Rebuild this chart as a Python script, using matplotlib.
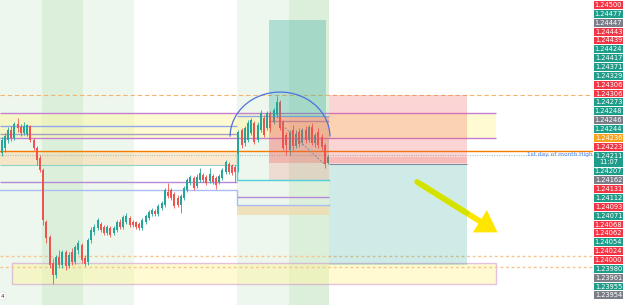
import matplotlib
matplotlib.use("Agg")
import matplotlib.pyplot as plt
from matplotlib.patches import Rectangle, Arc
import numpy as np

BASE = 1.24
# candle data in points (0.00001) above 1.24000
opens = [204, 213, 227, 245, 231, 256, 250, 240, 238, 252, 227, 213, 195, 174, 82, 55, 9, -12, 20, 6,
         29, 4, 29, 11, 32, 41, 18, 11, 50, 64, 71, 79, 73, 63, 71, 63, 68, 82, 73, 82,
         89, 82, 82, 79, 71, 82, 89, 96, 102, 96, 107, 112, 135, 139, 132, 125, 112, 125, 139, 151,
         160, 146, 156, 165, 162, 155, 163, 160, 153, 160, 171, 185, 181, 179, 174, 245, 222, 227, 240, 257,
         227, 245, 266, 248, 275, 259, 271, 294, 259, 236, 210, 245, 217, 241, 224, 245, 227, 250, 222, 241,
         233, 218, 187]
highs = [233, 240, 250, 252, 259, 266, 256, 259, 256, 254, 231, 217, 201, 178, 86, 59, 18, 24, 32, 32,
         32, 29, 36, 41, 50, 45, 24, 54, 73, 79, 89, 82, 77, 77, 75, 75, 86, 87, 94, 98,
         93, 86, 84, 82, 89, 96, 103, 107, 105, 114, 119, 142, 151, 142, 135, 130, 132, 146, 160, 165,
         163, 167, 178, 169, 165, 178, 167, 163, 167, 178, 192, 188, 185, 183, 245, 248, 252, 263, 266, 261,
         259, 280, 271, 279, 279, 284, 305, 298, 263, 241, 245, 254, 245, 248, 248, 252, 254, 257, 240, 248,
         238, 222, 201]
lows = [199, 206, 222, 225, 227, 241, 234, 236, 234, 224, 210, 183, 171, 77, 45, 1, -28, -17, 1, 1,
        -3, 1, 6, 8, 25, 9, 4, 6, 45, 59, 68, 64, 59, 59, 55, 59, 64, 70, 70, 79,
        73, 73, 70, 68, 68, 79, 86, 93, 93, 93, 103, 109, 125, 121, 107, 109, 98, 121, 135, 148,
        139, 142, 153, 153, 148, 151, 149, 140, 149, 156, 167, 167, 165, 153, 171, 213, 217, 224, 236, 220,
        224, 241, 233, 245, 241, 256, 266, 245, 210, 201, 201, 210, 213, 215, 218, 222, 224, 218, 215, 213,
        210, 178, 185]
closes = [227, 234, 245, 231, 256, 248, 240, 252, 254, 227, 213, 192, 174, 86, 54, 6, -12, 20, 6, 29,
          4, 24, 11, 38, 45, 15, 8, 50, 68, 73, 86, 68, 63, 73, 59, 71, 82, 73, 91, 93,
          77, 77, 73, 71, 86, 93, 100, 103, 96, 110, 116, 139, 128, 125, 110, 112, 128, 142, 156, 162,
          142, 162, 169, 156, 151, 167, 153, 148, 163, 174, 188, 171, 169, 171, 241, 218, 248, 257, 263, 224,
          254, 275, 236, 275, 248, 280, 294, 248, 213, 218, 241, 217, 238, 220, 245, 227, 250, 222, 236, 218,
          215, 185, 197]

# drawings (bar index ranges, prices)
session_bands = [(-0.5, 12.6), (12.6, 25.4), (25.4, 41.5), (73.6, 89.8), (89.8, 102.3)]
session_dark = [False, True, False, False, True]
level_prev_high = 1.24306
level_month_high = 1.24207
level_last = 1.24200
level_dotted = [1.24021, 1.24003]
upper_zone = (-0.5, 154.4, 1.24231, 1.24275)
upper_inner = [1.24252, 1.24238]
fvg_zone = (-0.5, 73.6, 1.24182, 1.24206)
lower_zone = (3.2, 154.4, 1.23972, 1.24009)
purple_left = 1.24152
blue_left = 1.24138
purple_right = 1.24126
blue_right = 1.24112
tan_right = (73.6, 102.3, 1.24094, 1.24112)
cyan_box = (73.6, 102.3, 1.24156, 1.24206)
teal_tall = (83.6, 101.4, 1.24268, 1.24440)
red_box = (83.6, 102.3, 1.24187, 1.24268)
red_box_low = (83.6, 102.3, 1.24156, 1.24187)
stop_zone = (102.3, 145.4, 1.24187, 1.24306)
stop_band = (102.3, 145.4, 1.24185, 1.24197)
target_zone = (102.3, 145.4, 1.24006, 1.24185)
arc_center = (87.0, 1.24233)
arc_size = (31.2, 0.00158)
diag = ([87.0, 101.1], [1.24257, 1.24183])
arrow_from = (129.8, 1.24153)
arrow_to = (155.7, 1.24061)

axis_labels = ["1.24500", "1.24477", "1.24447", "1.24443", "1.24439", "1.24424", "1.24417", "1.24371",
               "1.24329", "1.24306", "1.24306", "1.24273", "1.24248", "1.24246", "1.24244", "1.24236",
               "1.24223", "1.24211\n11:07", "1.24207", "1.24162", "1.24131", "1.24112", "1.24093",
               "1.24071", "1.24068", "1.24062", "1.24054", "1.24024", "1.24000", "1.23980", "1.23961",
               "1.23955", "1.23954"]
axis_kinds = ["r", "g", "k", "r", "r", "g", "g", "g", "g", "r", "r", "g", "g", "k", "g", "o",
              "r", "g", "g", "k", "r", "g", "r", "g", "r", "r", "g", "r", "r", "g", "k", "g", "k"]
kind_color = {"r": "#f23645", "g": "#1e9e8a", "k": "#7b7e88", "o": "#f7a21b"}

W, H = 625, 305
fig = plt.figure(figsize=(W / 100, H / 100), dpi=100)
ax = fig.add_axes([0, 0, 593 / W, 1])
ax.set_xlim(-0.5, 184.8)
ax.set_ylim(BASE - 0.00065, BASE + 0.00475)
ax.axis("off")


def box(z, fc, alpha=1.0, zorder=1, ec="none", lw=0):
    x0, x1, p0, p1 = z
    ax.add_patch(Rectangle((x0, p0), x1 - x0, p1 - p0, facecolor=fc, alpha=alpha,
                           edgecolor=ec, lw=lw, zorder=zorder))


for (x0, x1), dark in zip(session_bands, session_dark):
    ax.axvspan(x0, x1, color="#dcefdb" if dark else "#eef7ed", lw=0, zorder=0)

# zones
box(upper_zone, "#fff59d", 0.45, 1)
ax.hlines([upper_zone[3], upper_zone[2]], upper_zone[0], upper_zone[1], color="#c47fd0", lw=1, zorder=2)
ax.hlines(upper_inner[0], -0.5, 73.6, color="#8fa7ee", lw=1, zorder=2)
ax.hlines(upper_inner[1], -0.5, 73.6, color="#a99fc0", lw=1, zorder=2)
ax.hlines(1.24270, 73.6, 102.3, color="#8fa7ee", lw=1, zorder=2)
ax.hlines(1.24260, 83.6, 102.3, color="#a99fc0", lw=1, zorder=2)
box(fvg_zone, "#f9d9a8", 0.55, 1)
ax.hlines(fvg_zone[2], fvg_zone[0], fvg_zone[1], color="#8fd3c8", lw=0.8, zorder=2)
ax.hlines(purple_left, -0.5, 73.6, color="#b48ad8", lw=1, zorder=2)
ax.plot([-0.5, 73.6, 73.6, 102.3], [blue_left, blue_left, blue_right, blue_right],
        color="#a9bdf3", lw=1, zorder=2)
ax.hlines(purple_right, 73.6, 102.3, color="#b48ad8", lw=1, zorder=2)
box(tan_right, "#f0dcae", 0.8, 1)
box(lower_zone, "#fff59d", 0.45, 1, ec="#c77dcc", lw=1)

# levels
ax.axhline(level_prev_high, color="#f5b46a", lw=0.8, ls=(0, (4, 2.5)), zorder=2)
for lv in level_dotted:
    ax.axhline(lv, color="#f7c48a", lw=1.0, ls=(0, (2, 2)), zorder=2)
ax.axhline(level_month_high, color="#f57c00", lw=1.0, zorder=2)
ax.axhline(level_last, color="#a8c5c2", lw=0.8, ls=(0, (1, 1.2)), zorder=2)
ax.text(184.5, level_month_high - 0.00006, "1st day of month High", ha="right", va="center",
        fontsize=4.2, color="#4f86e8", zorder=6)

# candles
o = BASE + np.array(opens) / 1e5
h = BASE + np.array(highs) / 1e5
l = BASE + np.array(lows) / 1e5
c = BASE + np.array(closes) / 1e5
x = np.arange(len(o))
col = np.where(c >= o, "#26a69a", "#ef5350")
ax.vlines(x, l, h, colors=col, lw=0.6, zorder=3)
ax.bar(x, np.maximum(np.abs(c - o), 0.000012), bottom=np.minimum(o, c), width=0.62,
       color=col, lw=0, zorder=3)

# drawings on top
box(teal_tall, "#26a69a", 0.3, 4)
box(red_box, "#ef5350", 0.38, 4)
box(red_box_low, "#ef5350", 0.16, 4)
ax.plot([73.6, 73.6, 102.3], [cyan_box[3] - 0.00004, cyan_box[2], cyan_box[2]],
        color="#4fd0dd", lw=1, zorder=4)
box(stop_zone, "#ef5350", 0.24, 4)
box(stop_band, "#ef5350", 0.2, 4)
box(target_zone, "#26a69a", 0.22, 4)
ax.hlines(stop_band[2], stop_zone[0], stop_zone[1], color="#7d8c9a", lw=0.8, zorder=5)
ax.add_patch(Arc(arc_center, arc_size[0], arc_size[1], theta1=0, theta2=180,
                 color="#4d72dd", lw=0.9, zorder=5))
ax.plot(diag[0], diag[1], color="#8a8f9c", lw=0.7, ls=(0, (2, 1.5)), zorder=5)

mid = (arrow_from[0] + 0.6 * (arrow_to[0] - arrow_from[0]),
       arrow_from[1] + 0.6 * (arrow_to[1] - arrow_from[1]))
ax.annotate("", xy=arrow_to, xytext=arrow_from, zorder=6,
            arrowprops=dict(arrowstyle="simple,head_width=1.9,head_length=1.5,tail_width=0.42",
                            mutation_scale=10, color="#ffe600", lw=0))
ax.plot([arrow_from[0], mid[0]], [arrow_from[1], mid[1]], color="#d2e300", lw=4.0,
        solid_capstyle="round", zorder=6)

# price scale labels, stacked
ycur = 0.6
for lab, kind in zip(axis_labels, axis_kinds):
    hh = 16.0 if "\n" in lab else 8.85
    fig.patches.append(Rectangle((594 / W, 1 - (ycur + hh - 0.5) / H), 29 / W, (hh - 1.0) / H,
                                 transform=fig.transFigure, facecolor=kind_color[kind], lw=0))
    fig.text(608.5 / W, 1 - (ycur + hh / 2) / H, lab, ha="center", va="center", fontsize=4.8,
             color="white", linespacing=1.1)
    ycur += hh

fig.text(1 / W, 1 - 296 / H, "4", fontsize=4, color="#333333", va="center",
         bbox=dict(boxstyle="round,pad=0.25", fc="white", ec="#dddddd", lw=0.4))

fig.savefig("out.png", dpi=100)
